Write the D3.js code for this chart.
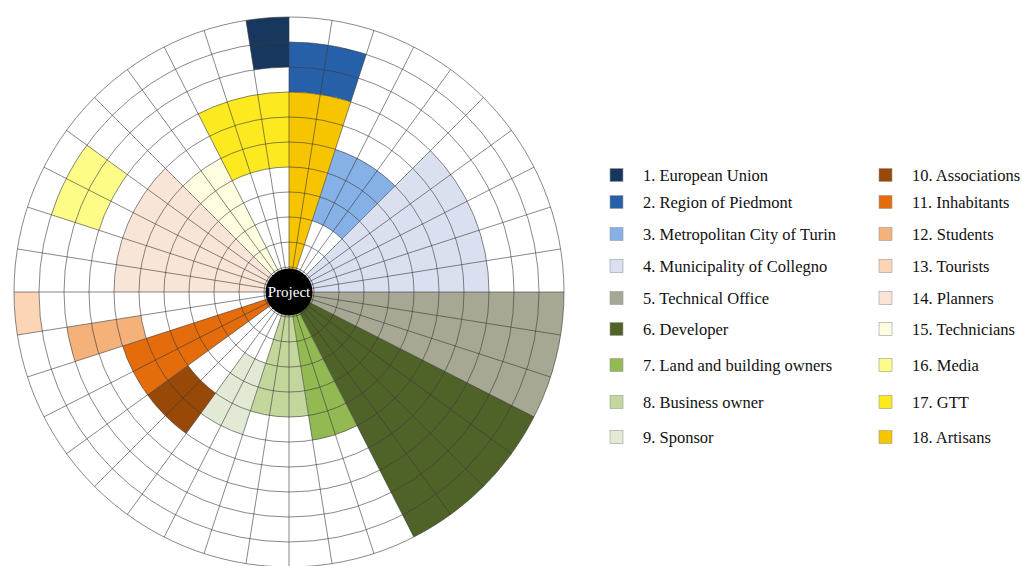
<!DOCTYPE html>
<html>
<head>
<meta charset="utf-8">
<script src="https://cdn.jsdelivr.net/npm/d3@7"></script>
<style>
  body { margin: 0; background: #fff; }
  svg { display: block; }
</style>
</head>
<body>
<svg id="chart" width="1022" height="566"></svg>
<script>
// stakeholders (legend order)
var names = ['1. European Union', '2. Region of Piedmont', '3. Metropolitan City of Turin',
  '4. Municipality of Collegno', '5. Technical Office', '6. Developer',
  '7. Land and building owners', '8. Business owner', '9. Sponsor',
  '10. Associations', '11. Inhabitants', '12. Students', '13. Tourists',
  '14. Planners', '15. Technicians', '16. Media', '17. GTT', '18. Artisans'];
var colors = ['#17375e', '#2660a8', '#85b1e6', '#dbe0f1', '#a6a894', '#4f6228',
  '#93b953', '#c3d69b', '#e2ead6', '#984807', '#e46c0a', '#f5b17a', '#fbd5b5',
  '#f9e5d8', '#fefde0', '#fdfc87', '#fce91f', '#f6c500'];

// cells taken by each stakeholder: sectors (40 around, clockwise from top) and rings (11 from centre)
var sectorFrom = [39, 0, 2, 5, 10, 13, 17, 19, 22, 24, 26, 28, 29, 30, 35, 32, 37, 0];
var sectorTo   = [40, 2, 5, 10, 13, 17, 19, 22, 24, 26, 28, 29, 30, 35, 37, 34, 40, 2];
var ringFrom   = [9, 8, 3, 0, 0, 0, 0, 0, 3, 5, 0, 6, 10, 0, 0, 8, 5, 0];
var ringTo     = [11, 10, 6, 8, 11, 11, 6, 5, 6, 7, 7, 9, 11, 7, 6, 10, 8, 8];

var nSectors = 40;
var nRings = 11;

// layout
var cx = 289, cy = 292, R = 275;
var legendRowY = [175, 202, 234, 266, 298, 329, 365, 402, 437];
var legendColX = [610, 879];

var svg = d3.select('#chart');

var angle = d3.scaleLinear().domain([0, nSectors]).range([0, 2 * Math.PI]);
var radius = d3.scaleLinear().domain([0, nRings]).range([0, R]);

var g = svg.append('g').attr('transform', 'translate(' + cx + ',' + cy + ')');

var arc = d3.arc()
  .innerRadius(function(i) { return radius(ringFrom[i]); })
  .outerRadius(function(i) { return radius(ringTo[i]); })
  .startAngle(function(i) { return angle(sectorFrom[i]); })
  .endAngle(function(i) { return angle(sectorTo[i]); });

g.selectAll('path.block')
  .data(d3.range(names.length))
  .enter().append('path')
  .attr('class', 'block')
  .attr('d', arc)
  .attr('fill', function(i) { return colors[i]; });

// grid: rings
g.selectAll('circle.ring')
  .data(d3.range(1, nRings + 1))
  .enter().append('circle')
  .attr('class', 'ring')
  .attr('r', function(k) { return radius(k); })
  .attr('fill', 'none')
  .attr('stroke', '#3a3a3a')
  .attr('stroke-opacity', 0.6)
  .attr('stroke-width', 1);

// grid: spokes
g.selectAll('line.spoke')
  .data(d3.range(nSectors))
  .enter().append('line')
  .attr('class', 'spoke')
  .attr('x1', 0).attr('y1', 0)
  .attr('x2', function(s) { return R * Math.sin(angle(s)); })
  .attr('y2', function(s) { return -R * Math.cos(angle(s)); })
  .attr('stroke', '#3a3a3a')
  .attr('stroke-opacity', 0.6)
  .attr('stroke-width', 1);

// centre
g.append('circle').attr('r', 23.5).attr('fill', '#000');
g.append('text')
  .attr('text-anchor', 'middle')
  .attr('dy', '0.33em')
  .attr('fill', '#fff')
  .style('font-family', '"Liberation Serif", "Times New Roman", serif')
  .style('font-size', '15px')
  .text('Project');

// legend
var legend = svg.append('g');
var item = legend.selectAll('g.item')
  .data(d3.range(names.length))
  .enter().append('g')
  .attr('class', 'item')
  .attr('transform', function(i) {
    var col = Math.floor(i / 9), row = i % 9;
    return 'translate(' + legendColX[col] + ',' + legendRowY[row] + ')';
  });

item.append('rect')
  .attr('x', 0).attr('y', -6.5)
  .attr('width', 13).attr('height', 13)
  .attr('fill', function(i) { return colors[i]; })
  .attr('stroke', '#9a9a9a')
  .attr('stroke-width', 0.6);

item.append('text')
  .attr('x', 33)
  .attr('dy', '0.35em')
  .attr('fill', '#111')
  .style('font-family', '"Liberation Serif", "Times New Roman", serif')
  .style('font-size', '16.5px')
  .text(function(i) { return names[i]; });
</script>
</body>
</html>
